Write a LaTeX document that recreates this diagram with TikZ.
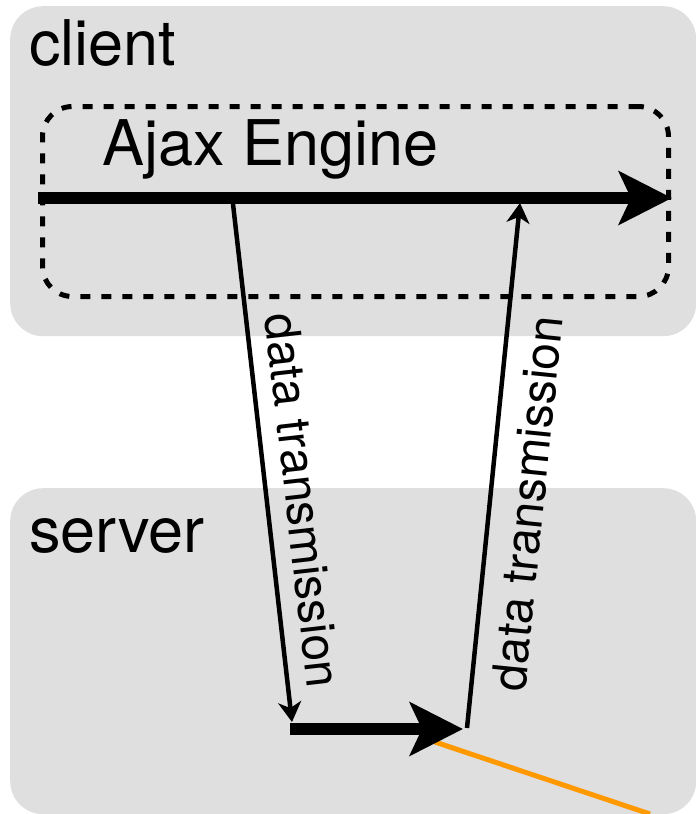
\documentclass[tikz,border=0pt]{standalone}
\usepackage{fontspec}
\setmainfont{TeX Gyre Heros}
\usetikzlibrary{arrows.meta}
\definecolor{zonegray}{HTML}{DFDFDF}
\definecolor{linkorange}{HTML}{FF9900}

\begin{document}
\begin{tikzpicture}[x=1pt,y=-1pt,
zone/.style={rounded corners=33pt,fill=zonegray,anchor=north west,minimum width=686pt,inner sep=0pt},
titre/.style={anchor=base west,inner sep=0pt,font=\fontsize{63}{70}\selectfont},
flux/.style={line width=12pt,-{Stealth[length=53pt,width=53pt,inset=12pt]}},
trans/.style={line width=4.5pt,-{Stealth[length=20pt,width=23pt,inset=6pt]}},
lbl/.style={sloped,font=\fontsize{48}{54}\selectfont}]
\useasboundingbox (0,0) rectangle (696,814);
\node[zone,minimum height=330pt] (client) at (10,6) {};
\node[zone,minimum height=326pt] (server) at (10,488) {};
\node[draw,dash pattern=on 10pt off 11pt,line width=5pt,rounded corners=30pt,anchor=north west,minimum width=626pt,minimum height=190pt] (engine) at (40,104) {};
\node[titre] (c) at (29,65) {client};
\node[titre] (s) at (29,552) {server};
\node[titre] (e) at (102,165) {Ajax Engine};
\coordinate (e0) at (38,198);
\coordinate (e1) at (672,198);
\coordinate (q0) at (233,204);
\coordinate (q1) at (292,722);
\coordinate (r0) at (467,728);
\coordinate (r1) at (520,203);
\coordinate (s0) at (290,729);
\coordinate (s1) at (463,729);
\coordinate (o0) at (432,741);
\coordinate (o1) at (650,814);
\draw[flux] (e0) -- (e1);
\draw[trans] (q0) -- node[lbl,pos=.58,above,inner sep=16pt] (dq) {data transmission} (q1);
\draw[trans] (r0) -- node[lbl,pos=.435,below,inner sep=17pt] (dr) {data transmission} (r1);
\draw[linkorange,line width=5pt] (o0) -- (o1);
\draw[flux] (s0) -- (s1);
\end{tikzpicture}
\end{document}
